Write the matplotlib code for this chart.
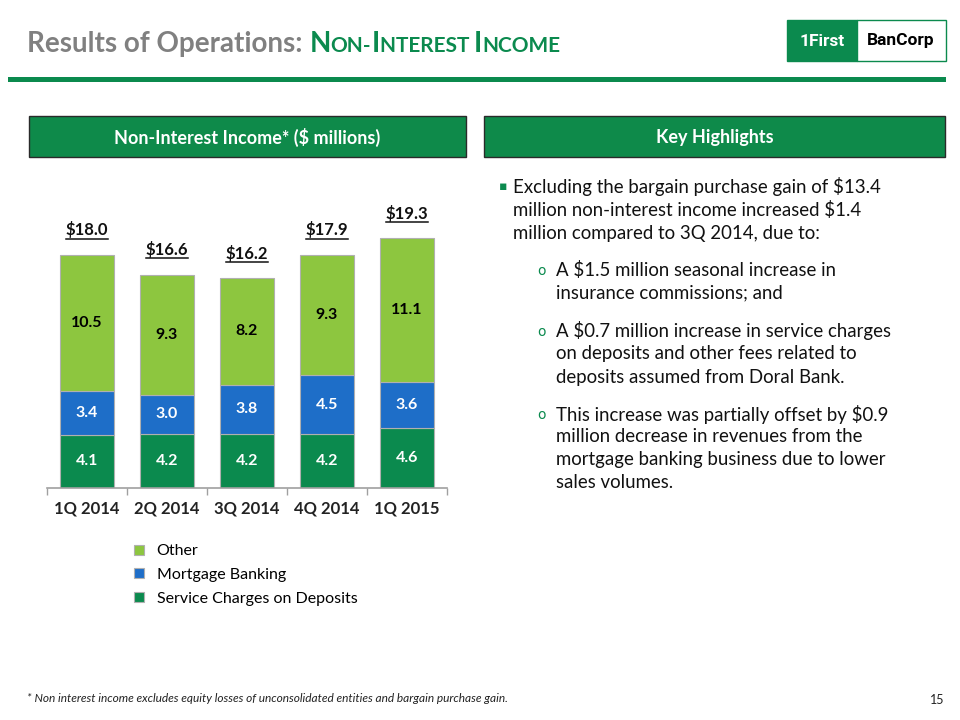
import numpy as np
import matplotlib
matplotlib.use("Agg")
import matplotlib.pyplot as plt
from matplotlib.patches import Rectangle

# data
quarters = ["1Q 2014", "2Q 2014", "3Q 2014", "4Q 2014", "1Q 2015"]
service_charges = [4.1, 4.2, 4.2, 4.2, 4.6]
mortgage_banking = [3.4, 3.0, 3.8, 4.5, 3.6]
other = [10.5, 9.3, 8.2, 9.3, 11.1]
totals = [18.0, 16.6, 16.2, 17.9, 19.3]
series_names = ["Service Charges on Deposits", "Mortgage Banking", "Other"]

DARK_GREEN = "#0B8A4E"
BLUE = "#1E6EC8"
LIGHT_GREEN = "#8DC63F"
HEAD_GREEN = "#0E8A4A"
GRAY_TITLE = "#808080"

BODY = "Lato"

fig = plt.figure(figsize=(9.6, 7.2), dpi=100)
fig.patch.set_facecolor("white")

# overlay in pixel coords (y down)
ov = fig.add_axes([0, 0, 1, 1])
ov.set_xlim(0, 960)
ov.set_ylim(720, 0)
ov.axis("off")

# ---- title (small caps built piece by piece)
renderer = fig.canvas.get_renderer()
x = 27
pieces = [("Results of Operations: ", 20, GRAY_TITLE),
          ("N", 20, DARK_GREEN), ("ON-", 15, DARK_GREEN),
          ("I", 20, DARK_GREEN), ("NTEREST ", 15, DARK_GREEN),
          ("I", 20, DARK_GREEN), ("NCOME", 15, DARK_GREEN)]
for s, fs, col in pieces:
    t = ov.text(x, 52, s, fontsize=fs, color=col, fontweight="bold",
                family=BODY, va="baseline", ha="left")
    bb = t.get_window_extent(renderer)
    x += bb.width

# green rule
ov.add_patch(Rectangle((8, 77), 938, 5, color=DARK_GREEN, lw=0))

# logo
ov.add_patch(Rectangle((787, 20), 70, 41, facecolor=DARK_GREEN, edgecolor=DARK_GREEN, lw=1))
ov.add_patch(Rectangle((857, 20), 89, 41, facecolor="white", edgecolor=DARK_GREEN, lw=1))
ov.text(822, 41, "1First", color="white", fontsize=12.5, fontweight="bold",
        family="Roboto", ha="center", va="center")
ov.text(901, 41, "BanCorp", color="black", fontsize=12.5, fontweight="bold",
        family="Roboto", ha="center", va="center")

# header boxes
for (x0, x1, label) in [(29, 466, "Non-Interest Income* ($ millions)"),
                        (484, 945, "Key Highlights")]:
    ov.add_patch(Rectangle((x0, 116), x1 - x0, 41, facecolor=HEAD_GREEN,
                           edgecolor="#2a2a2a", lw=1))
    ov.text((x0 + x1) / 2, 137, label, color="white", fontsize=13,
            fontweight="bold", family=BODY, ha="center", va="center")

# ---- bullets
ov.text(499, 187, "\u25aa", color=DARK_GREEN, fontsize=9, family="DejaVu Sans",
        ha="left", va="center")
main_lines = ["Excluding the bargain purchase gain of $13.4",
              "million non-interest income increased $1.4",
              "million compared to 3Q 2014, due to:"]
for i, line in enumerate(main_lines):
    ov.text(513, 187 + i * 23, line, fontsize=13.4, family=BODY, color="#111111",
            ha="left", va="center")

subs = [(270, ["A $1.5 million seasonal increase in",
               "insurance commissions; and"]),
        (331, ["A $0.7 million increase in service charges",
               "on deposits and other fees related to",
               "deposits assumed from Doral Bank."]),
        (414, ["This increase was partially offset by $0.9",
               "million decrease in revenues from the",
               "mortgage banking business due to lower",
               "sales volumes."])]
for y0, lines in subs:
    ov.text(537, y0 + 1, "o", color=DARK_GREEN, fontsize=10, family="DejaVu Sans",
            ha="left", va="center")
    for i, line in enumerate(lines):
        ov.text(556, y0 + i * 23, line, fontsize=13.4, family=BODY, color="#111111",
                ha="left", va="center")

# footnote and page number
ov.text(27, 698, "* Non interest income excludes equity losses of unconsolidated entities and bargain purchase gain.",
        fontsize=8.6, style="italic", family=BODY, color="#222222", ha="left", va="center")
ov.text(944, 700, "15", fontsize=9, family=BODY, color="#222222", ha="right", va="center")

# ---- stacked bar chart
ax = fig.add_axes([47 / 960, (720 - 488) / 720, 400 / 960, 260 / 720])
ax.set_zorder(2)
ax.patch.set_alpha(0)
xpos = np.arange(len(quarters))
w = 0.675
b1 = ax.bar(xpos, service_charges, w, color=DARK_GREEN, edgecolor="#b0b0b0", lw=0.8,
            label=series_names[0])
b2 = ax.bar(xpos, mortgage_banking, w, bottom=service_charges, color=BLUE,
            edgecolor="#b0b0b0", lw=0.8, label=series_names[1])
bottom3 = np.array(service_charges) + np.array(mortgage_banking)
b3 = ax.bar(xpos, other, w, bottom=bottom3, color=LIGHT_GREEN, edgecolor="#b0b0b0",
            lw=0.8, label=series_names[2])

ax.set_xlim(-0.5, len(quarters) - 0.5)
ax.set_ylim(0, 20.1)
for s in ["top", "right", "left"]:
    ax.spines[s].set_visible(False)
ax.spines["bottom"].set_color("#a0a0a0")
ax.spines["bottom"].set_linewidth(1.2)
ax.set_yticks([])
ax.set_xticks(xpos)
ax.set_xticklabels(quarters, fontsize=12, fontweight="bold", family=BODY, color="#222222")
ax.tick_params(axis="x", which="major", length=0, pad=9)
ax.set_xticks(np.arange(-0.5, len(quarters), 1), minor=True)
ax.tick_params(axis="x", which="minor", length=5, color="#a0a0a0", width=1)

for i in range(len(quarters)):
    ax.text(xpos[i], service_charges[i] / 2, f"{service_charges[i]:.1f}", color="white",
            fontsize=11.5, fontweight="bold", family=BODY, ha="center", va="center")
    ax.text(xpos[i], service_charges[i] + mortgage_banking[i] / 2, f"{mortgage_banking[i]:.1f}",
            color="white", fontsize=11.5, fontweight="bold", family=BODY, ha="center", va="center")
    ax.text(xpos[i], bottom3[i] + other[i] / 2, f"{other[i]:.1f}", color="black",
            fontsize=11.5, fontweight="bold", family=BODY, ha="center", va="center")

# total labels, underlined
stack_tops = bottom3 + np.array(other)
for i in range(len(quarters)):
    t = ax.text(xpos[i], stack_tops[i] + 1.3, f"${totals[i]:.1f}", color="#111111",
                fontsize=12, fontweight="bold", family=BODY, ha="center", va="bottom")
    bb = t.get_window_extent(renderer).transformed(ax.transData.inverted())
    ax.plot([bb.x0, bb.x1], [bb.y0 - 0.05, bb.y0 - 0.05], color="#111111", lw=1.1,
            clip_on=False)

# legend
handles = [b3, b2, b1]
fig.legend(handles, [series_names[2], series_names[1], series_names[0]],
           loc="upper left", bbox_to_anchor=(120 / 960, 1 - 530 / 720),
           frameon=False, handlelength=0.6, handleheight=0.6, handletextpad=0.8,
           labelspacing=0.6, prop={"family": BODY, "size": 11.5})

fig.savefig("out.png", dpi=100, facecolor="white")
